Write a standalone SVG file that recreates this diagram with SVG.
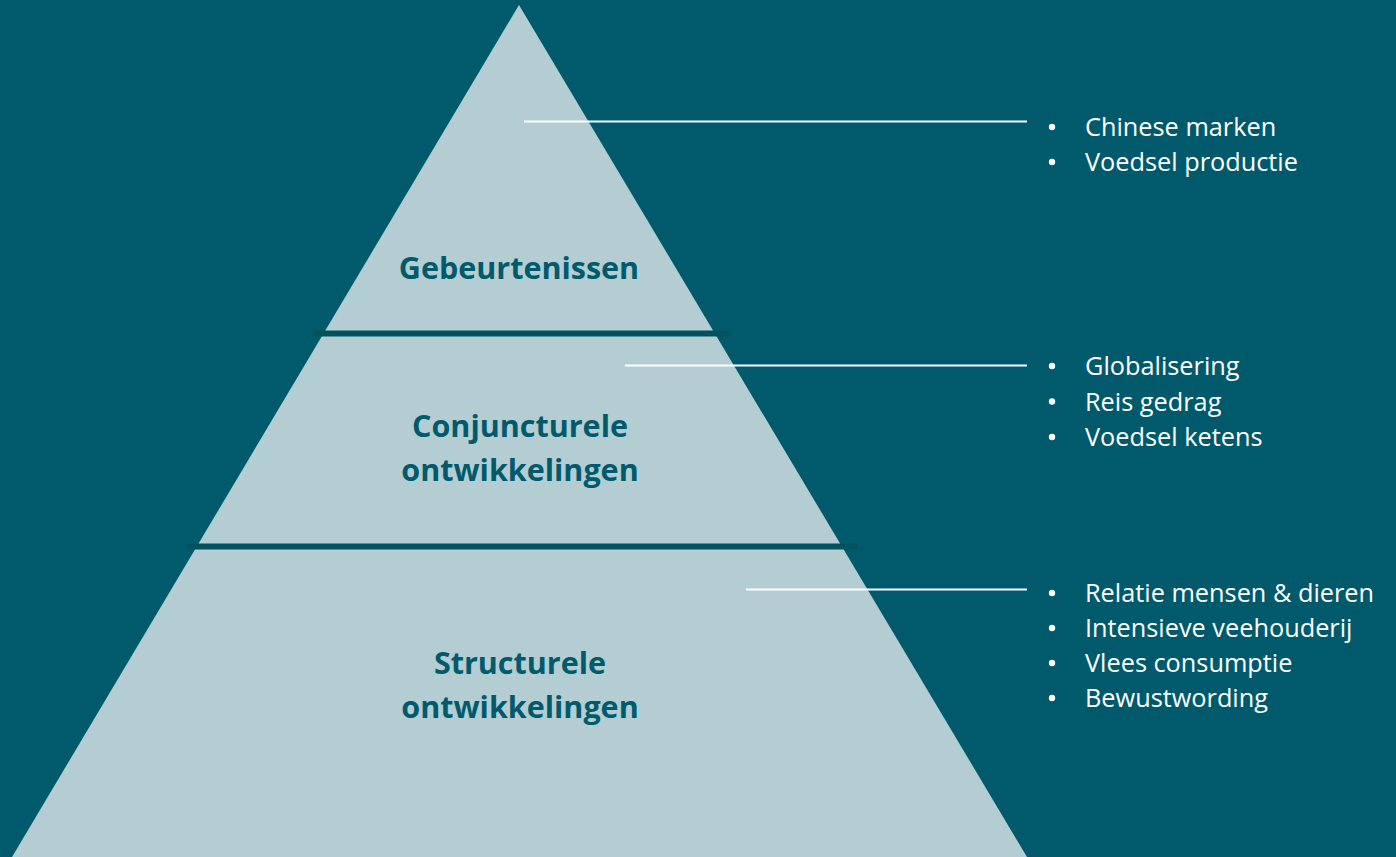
<svg xmlns="http://www.w3.org/2000/svg" width="1396" height="857" viewBox="0 0 1396 857">
<style>
.lbl{font-family:"Open Sans","Liberation Sans",sans-serif;font-weight:bold;font-size:30.5px;fill:#005A6B;text-anchor:middle}
.itm{font-family:"Open Sans","Liberation Sans",sans-serif;font-size:25.3px;fill:#FFFFFF}
.sep{stroke:#00525F;stroke-width:6;stroke-linecap:round}
.ptr{stroke:#FFFFFF;stroke-width:2}
</style>
<rect x="0" y="0" width="1396" height="857" fill="#005A6B"/>
<g id="pyramid">
<polygon points="519,5 1027,857 12,857" fill="#B3CDD3"/>
</g>
<g id="separators">
<line class="sep" x1="316" y1="333.5" x2="726" y2="333.5"/>
<line class="sep" x1="190" y1="546.5" x2="855" y2="546.5"/>
</g>
<g id="level-top">
<text class="lbl" x="519" y="279">Gebeurtenissen</text>
</g>
<g id="level-middle">
<text class="lbl" x="520" y="437">Conjuncturele</text>
<text class="lbl" x="520" y="481">ontwikkelingen</text>
</g>
<g id="level-bottom">
<text class="lbl" x="520" y="674">Structurele</text>
<text class="lbl" x="520" y="718">ontwikkelingen</text>
</g>
<g id="connectors">
<line class="ptr" x1="524" y1="121.5" x2="1027" y2="121.5"/>
<line class="ptr" x1="625" y1="365.5" x2="1027" y2="365.5"/>
<line class="ptr" x1="746" y1="589.5" x2="1027" y2="589.5"/>
</g>
<g id="list-top">
<circle cx="1052" cy="127" r="3.2" fill="#FFFFFF"/>
<circle cx="1052" cy="162" r="3.2" fill="#FFFFFF"/>
<text class="itm" x="1085" y="136">Chinese marken</text>
<text class="itm" x="1085" y="171">Voedsel productie</text>
</g>
<g id="list-middle">
<circle cx="1052" cy="366" r="3.2" fill="#FFFFFF"/>
<circle cx="1052" cy="401.5" r="3.2" fill="#FFFFFF"/>
<circle cx="1052" cy="437" r="3.2" fill="#FFFFFF"/>
<text class="itm" x="1085" y="375">Globalisering</text>
<text class="itm" x="1085" y="410.5">Reis gedrag</text>
<text class="itm" x="1085" y="446">Voedsel ketens</text>
</g>
<g id="list-bottom">
<circle cx="1052" cy="593" r="3.2" fill="#FFFFFF"/>
<circle cx="1052" cy="628" r="3.2" fill="#FFFFFF"/>
<circle cx="1052" cy="663" r="3.2" fill="#FFFFFF"/>
<circle cx="1052" cy="698" r="3.2" fill="#FFFFFF"/>
<text class="itm" x="1085" y="602">Relatie mensen &amp; dieren</text>
<text class="itm" x="1085" y="637">Intensieve veehouderij</text>
<text class="itm" x="1085" y="672">Vlees consumptie</text>
<text class="itm" x="1085" y="707">Bewustwording</text>
</g>
</svg>
